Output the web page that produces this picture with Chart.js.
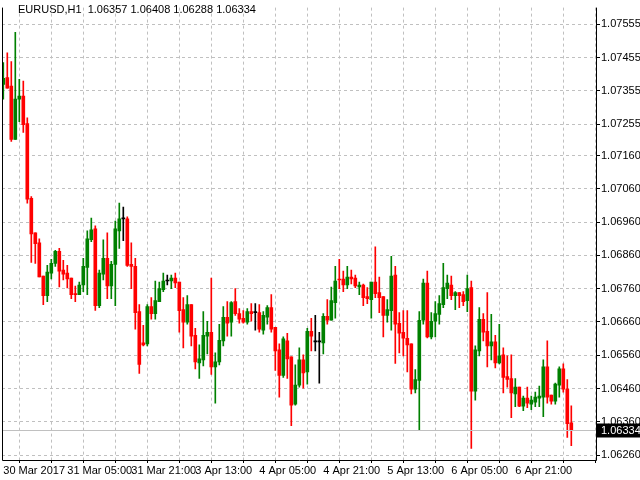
<!DOCTYPE html>
<html><head><meta charset="utf-8">
<script src="https://cdn.jsdelivr.net/npm/chart.js@4"></script>
<style>html,body{margin:0;padding:0;background:#fff}#w{width:640px;height:480px}</style>
</head><body><div id="w"><canvas id="c"></canvas></div>
<script>
const symbolTitle = "EURUSD,H1  1.06357 1.06408 1.06288 1.06334";
const lastPrice = 1.06334;
const xTickLabels = ["30 Mar 2017","31 Mar 05:00","31 Mar 21:00","3 Apr 13:00","4 Apr 05:00","4 Apr 21:00","5 Apr 13:00","6 Apr 05:00","6 Apr 21:00"];
const yTickValues = [1.07555,1.07455,1.07355,1.07255,1.07160,1.07060,1.06960,1.06860,1.06760,1.06660,1.06560,1.06460,1.06360,1.06260];
// prices in 1e-5 units
const opens = [107374,107395,107369,107209,107330,107339,107256,107032,106928,106898,106798,106739,106807,106836,106872,106816,106807,106792,106745,106742,106771,106824,106907,106940,106709,106804,106851,106768,106833,106934,106970,106970,106833,106827,106691,106597,106594,106706,106685,106721,106757,106783,106783,106792,106780,106697,106659,106712,106620,106537,106546,106617,106629,106525,106540,106603,106674,106659,106721,106685,106671,106659,106691,106688,106688,106635,106674,106703,106644,106576,106499,106603,106555,106413,106470,106546,106510,106632,106600,106600,106597,106677,106665,106718,106789,106789,106771,106795,106792,106765,106771,106736,106727,106780,106748,106736,106680,106694,106801,106656,106629,106611,106594,106458,106484,106665,106777,106615,106662,106683,106712,106760,106771,106739,106748,106742,106724,106763,106452,106573,106668,106632,106588,106600,106537,106561,106496,106490,106444,106464,106407,106431,106413,106419,106431,106434,106525,106440,106422,106470,106519,106458,106357];
const highs = [107440,107469,107443,107531,107389,107384,107274,107037,106928,106910,106798,106830,106848,106875,106881,106845,106830,106792,106768,106780,106851,106934,106972,106949,106816,106907,106928,106842,106963,107017,107005,106976,106898,106851,106712,106650,106712,106733,106783,106780,106807,106801,106801,106807,106780,106733,106739,106712,106641,106591,106691,106662,106792,106567,106653,106706,106721,106721,106760,106700,106694,106700,106715,106715,106712,106691,106709,106742,106644,106594,106615,106626,106555,106531,106582,106561,106641,106671,106680,106629,106685,106727,106765,106827,106848,106813,106827,106816,106801,106780,106774,106763,106780,106886,106795,106736,106727,106857,106827,106688,106694,106694,106594,106517,106691,106789,106813,106688,106721,106739,106836,106801,106798,106751,106748,106751,106801,106783,106588,106703,106685,106748,106683,106620,106653,106582,106558,106561,106490,106464,106437,106464,106437,106449,106467,106546,106603,106440,106476,106525,106534,106487,106408];
const lows = [107330,107363,107203,107209,107262,107230,107017,106839,106836,106795,106712,106721,106789,106827,106765,106786,106762,106730,106721,106742,106751,106742,106901,106695,106703,106786,106730,106730,106709,106881,106904,106827,106760,106638,106505,106588,106588,106668,106668,106721,106751,106771,106760,106763,106629,106582,106653,106588,106519,106490,106528,106564,106502,106416,106531,106588,106617,106617,106680,106656,106656,106653,106662,106635,106629,106623,106653,106629,106514,106434,106493,106490,106348,106410,106464,106461,106473,106573,106573,106476,106564,106653,106665,106671,106760,106751,106760,106774,106763,106742,106709,106715,106671,106733,106688,106615,106659,106635,106535,106567,106558,106510,106444,106447,106336,106653,106612,106609,106615,106653,106703,106730,106727,106697,106703,106709,106691,106280,106425,106558,106603,106525,106546,106522,106534,106447,106464,106372,106405,106405,106393,106402,106396,106405,106405,106375,106416,106413,106413,106434,106449,106313,106288];
const closes = [107392,107363,107209,107330,107339,107253,107029,106925,106895,106795,106739,106810,106836,106872,106813,106804,106789,106742,106742,106771,106827,106910,106937,106709,106807,106851,106768,106833,106940,106970,106970,106830,106827,106688,106532,106591,106706,106685,106724,106760,106783,106783,106792,106777,106694,106659,106712,106617,106540,106549,106620,106629,106525,106540,106605,106674,106656,106718,106685,106668,106659,106691,106685,106688,106638,106680,106703,106638,106573,106499,106609,106549,106410,106470,106546,106507,106632,106617,106600,106600,106677,106665,106724,106783,106786,106771,106795,106789,106768,106771,106733,106730,106780,106745,106733,106680,106697,106798,106653,106626,106611,106591,106458,106487,106665,106777,106615,106662,106685,106715,106763,106777,106739,106748,106739,106721,106760,106452,106576,106668,106629,106588,106600,106537,106558,106493,106487,106447,106464,106407,106431,106416,106425,106434,106437,106525,106434,106422,106473,106519,106458,106354,106334];

const P = v => v / 100000;
const col = (o,c) => c > o ? '#008000' : (c < o ? '#ff0000' : '#000000');
const wickData = opens.map((o,i) => ({x:i, y:[P(lows[i]), P(highs[i])]}));
const bodyData = opens.map((o,i) => ({x:i, y:[P(Math.min(o,closes[i])), P(Math.max(o,closes[i]))]}));
const colors = opens.map((o,i) => col(o, closes[i]));
const FONT = '"Liberation Sans", Arial, sans-serif';

const decor = {
  id:'decor',
  afterDraw(chart){
    const {ctx, chartArea:a, scales:{y}} = chart;
    ctx.save();
    ctx.setLineDash([]);
    const yp = Math.round(y.getPixelForValue(lastPrice)) + 0.5;
    ctx.strokeStyle = '#c0c0c0'; ctx.lineWidth = 1;
    ctx.beginPath(); ctx.moveTo(a.left, yp); ctx.lineTo(a.right, yp); ctx.stroke();
    ctx.strokeStyle = '#000';
    ctx.beginPath();
    ctx.moveTo(a.left+0.5, a.top); ctx.lineTo(a.left+0.5, a.bottom+0.5);
    ctx.lineTo(a.right+0.5, a.bottom+0.5); ctx.lineTo(a.right+0.5, a.top);
    ctx.stroke();
    ctx.fillStyle = '#000';
    ctx.fillRect(a.right+1, yp-7, 44, 14);
    ctx.fillStyle = '#fff';
    ctx.font = '11px ' + FONT;
    ctx.textBaseline = 'middle'; ctx.textAlign = 'left';
    ctx.fillText(lastPrice.toFixed(5), a.right+5, yp);
    ctx.fillStyle = '#000';
    ctx.fillText(symbolTitle, 18, 10);
    ctx.restore();
  }
};

new Chart(document.getElementById('c'), {
  type:'bar',
  data:{datasets:[
    {data:wickData, backgroundColor:colors, barThickness:1, grouped:false, order:2},
    {data:bodyData, backgroundColor:colors, barThickness:3, grouped:false, minBarLength:1, order:1}
  ]},
  options:{
    responsive:true, maintainAspectRatio:false, animation:false,
    layout:{padding:{left:2, top:0, right:0, bottom:0}},
    plugins:{legend:{display:false}, tooltip:{enabled:false}},
    scales:{
      x:{type:'linear', offset:false, min:-0.325, max:148.175,
        afterBuildTicks(s){ const t=[]; for(let i=0;i<=144;i+=8) t.push({value:i}); s.ticks=t; },
        afterFit(s){ s.height = 20; },
        grid:{color:'#c0c0c0', tickColor:'#000', tickLength:3, tickBorderDash:[]},
        border:{display:false, dash:[3,3]},
        ticks:{autoSkip:false, maxRotation:0, align:'start', padding:1, color:'#000',
          font:{family:FONT, size:11},
          callback(v){ return (v % 16 === 0 && xTickLabels[v/16]) ? xTickLabels[v/16] : ''; }}
      },
      y:{position:'right', min:1.06245, max:1.07605,
        afterBuildTicks(s){ s.ticks = yTickValues.map(v=>({value:v})); },
        afterFit(s){ s.width = 44; },
        grid:{color:'#c0c0c0', tickColor:'#000', tickLength:4, tickBorderDash:[]},
        border:{display:false, dash:[3,3]},
        ticks:{padding:1, color:'#000', font:{family:FONT, size:11},
          callback(v){ return v.toFixed(5); }}
      }
    }
  },
  plugins:[decor]
});
</script></body></html>
